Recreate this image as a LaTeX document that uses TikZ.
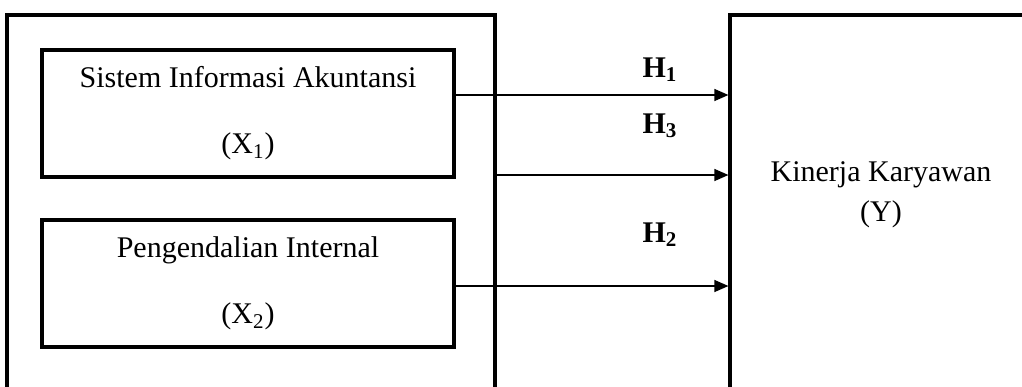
\documentclass[tikz,border=0pt]{standalone}
\usepackage{fontspec}
\setmainfont{Liberation Serif}
\usetikzlibrary{arrows.meta}
\begin{document}
\begin{tikzpicture}[x=0.5pt,y=-0.5pt,
  frame/.style={draw,line width=1.6pt,inner sep=0pt},
  varbox/.style={draw,line width=1.6pt,minimum width=206pt,minimum height=63.5pt,
    inner sep=0pt,align=center,font=\fontsize{15}{33}\selectfont},
  caption/.style={font=\fontsize{15}{20}\selectfont,align=center},
  hyp/.style={font=\fontsize{15}{18}\selectfont\bfseries,anchor=base},
  link/.style={line width=0.6pt,-{Triangle[length=7pt,width=6pt]}}]
\useasboundingbox (0,0) rectangle (1022,386);
% independent variables grouped in one frame, dependent variable on the right
\node[frame,minimum width=244pt,minimum height=197.5pt] (outer) at (251,212.5) {};
\node[frame,minimum width=160pt,minimum height=197.5pt] (kin) at (890,212.5) {};
\node[varbox] (x1) at (248,113.5) {Sistem Informasi Akuntansi\\(X\textsubscript{1})};
\node[varbox] (x2) at (248,283.5) {Pengendalian Internal\\(X\textsubscript{2})};
\node[caption] (y) at (881,195) {Kinerja Karyawan\\(Y)};
% arrow start points
\coordinate (h1) at ([yshift=9.25pt]x1.east);
\coordinate (h3) at ([yshift=18.75pt]outer.east);
\coordinate (h2) at ([yshift=-1.25pt]x2.east);
\draw[link] (h1) -- (h1 -| kin.west);
\draw[link] (h3) -- (h3 -| kin.west);
\draw[link] (h2) -- (h2 -| kin.west);
% hypothesis labels
\node[hyp] (lh1) at (660,77) {H\textsubscript{1}};
\node[hyp] (lh3) at (660,133) {H\textsubscript{3}};
\node[hyp] (lh2) at (660,242) {H\textsubscript{2}};
\end{tikzpicture}
\end{document}
